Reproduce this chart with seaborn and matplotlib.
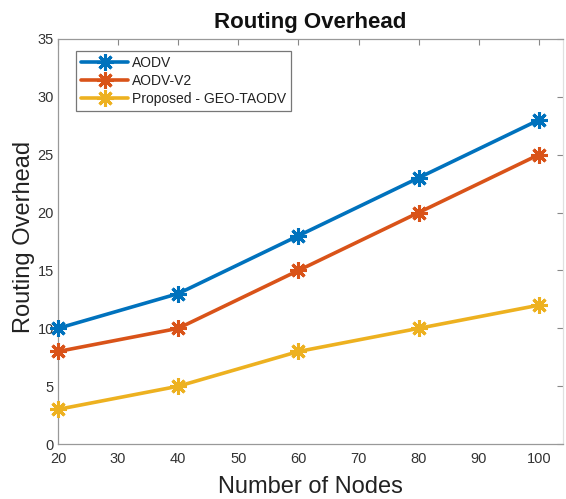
import matplotlib
matplotlib.use("Agg")
import matplotlib.pyplot as plt
import seaborn as sns
import pandas as pd

nodes = [20, 40, 60, 80, 100]
aodv = [10, 13, 18, 23, 28]
aodv_v2 = [8, 10, 15, 20, 25]
geo_taodv = [3, 5, 8, 10, 12]
series_names = ["AODV", "AODV-V2", "Proposed - GEO-TAODV"]
colors = ["#0072BD", "#D95319", "#EDB120"]
x_ticks = [20, 30, 40, 50, 60, 70, 80, 90, 100]
y_ticks = [0, 5, 10, 15, 20, 25, 30, 35]

df = pd.DataFrame({
    "Nodes": nodes * 3,
    "Overhead": aodv + aodv_v2 + geo_taodv,
    "Protocol": [n for n in series_names for _ in nodes],
})

sns.set_style("white")
plt.rcParams["font.family"] = ["Liberation Sans", "DejaVu Sans"]

fig = plt.figure(figsize=(5.66, 4.99), dpi=100)
ax = fig.add_axes([0.1025, 0.110, 0.892, 0.812])

star = (8, 2, 0)
sns.lineplot(
    data=df, x="Nodes", y="Overhead", hue="Protocol", style="Protocol",
    palette=dict(zip(series_names, colors)),
    markers={n: star for n in series_names}, dashes=False,
    linewidth=2.6, markersize=12, markeredgewidth=2.2, ax=ax,
)
for line in ax.lines:
    line.set_markeredgecolor(line.get_color())
    line.set_clip_on(False)
    line.set_zorder(5)

ax.set_xlim(20, 104)
ax.set_ylim(0, 35)
ax.set_xticks(x_ticks)
ax.set_yticks(y_ticks)
ax.tick_params(direction="in", length=4, width=0.8, colors="#888888",
               labelcolor="#333333", labelsize=10.5, top=True, right=True)
ax.tick_params(axis="x", pad=6)
ax.tick_params(axis="y", pad=3)
for s in ax.spines.values():
    s.set_color("#999999")
    s.set_linewidth(0.9)
ax.spines["right"].set_color("#e0e0e0")

ax.set_title("Routing Overhead", fontsize=16, fontweight="bold", color="#111111",
             pad=8)
ax.set_xlabel("Number of Nodes", fontsize=17, color="#222222")
ax.xaxis.set_label_coords(0.5, -0.079)
ax.set_ylabel("Routing Overhead", fontsize=17, color="#222222")
ax.yaxis.set_label_coords(-0.046, 0.512)

leg = ax.legend(loc="upper left", bbox_to_anchor=(0.036, 0.97), fontsize=10,
                frameon=True, fancybox=False, borderpad=0.35, labelspacing=0.3,
                handlelength=3.4, handletextpad=0.3, borderaxespad=0)
leg.get_frame().set_edgecolor("#555555")
leg.get_frame().set_linewidth(0.9)
for t in leg.get_texts():
    t.set_color("#222222")

fig.savefig("out.png", dpi=100)
